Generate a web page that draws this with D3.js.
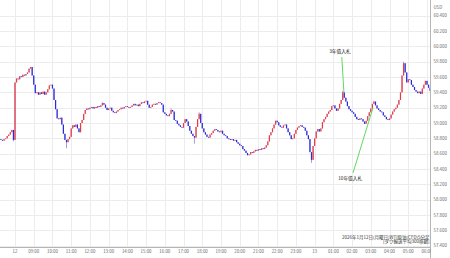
<!DOCTYPE html>
<html><head><meta charset="utf-8">
<script src="https://cdn.jsdelivr.net/npm/d3@7/dist/d3.min.js"></script>
<style>html,body{margin:0;padding:0;background:#fff;}svg{display:block;font-family:"Noto Sans CJK JP","Noto Sans",sans-serif;}</style>
</head><body><svg id="c" width="450" height="258"></svg>
<script>
// ---- data ----
const startTime = new Date(2026, 0, 12, 7, 15); // first 5-minute candle
const firstOpen = 58.79;
const closes = [
58.78,58.77,58.79,58.80,58.83,58.85,58.88,58.91,58.78,59.53,
59.58,59.57,59.61,59.60,59.63,59.62,59.64,59.66,59.71,59.73,
59.62,59.50,59.39,59.40,59.37,59.40,59.38,59.41,59.37,59.40,
59.44,59.49,59.50,59.45,59.30,59.18,59.06,59.05,59.07,58.98,
58.86,58.78,58.75,58.79,58.82,58.93,58.97,58.95,58.98,58.93,
58.88,59.00,59.04,59.12,59.17,59.19,59.18,59.20,59.21,59.19,
59.21,59.20,59.22,59.21,59.23,59.26,59.24,59.20,59.17,59.19,
59.20,59.16,59.14,59.13,59.15,59.17,59.18,59.20,59.19,59.21,
59.22,59.21,59.20,59.21,59.23,59.25,59.23,59.24,59.22,59.25,
59.27,59.26,59.28,59.29,59.24,59.20,59.21,59.24,59.25,59.24,
59.26,59.27,59.26,59.24,59.14,59.12,59.10,59.09,59.12,59.17,
59.15,59.04,59.03,58.99,58.97,58.95,58.94,59.00,59.05,59.02,
58.96,58.90,58.86,58.83,58.81,58.95,59.05,59.12,59.00,58.93,
58.88,58.85,58.82,58.81,58.85,58.87,58.90,58.92,58.91,58.89,
58.88,58.90,58.86,58.84,58.83,58.80,58.79,58.78,58.79,58.77,
58.78,58.75,58.73,58.71,58.70,58.66,58.64,58.61,58.58,58.59,
58.62,58.61,58.63,58.65,58.64,58.66,58.65,58.67,58.66,58.68,
58.71,58.76,58.84,58.88,58.93,58.98,59.03,59.01,58.97,58.95,
58.94,58.97,58.98,58.93,58.88,58.84,58.79,58.80,58.86,58.91,
58.94,58.96,58.97,58.95,58.94,58.90,58.84,58.79,58.62,58.52,
58.70,58.80,58.89,58.92,58.89,58.93,59.01,59.05,59.08,59.12,
59.15,59.17,59.22,59.23,59.19,59.16,59.19,59.25,59.30,59.40,
59.33,59.28,59.22,59.18,59.16,59.14,59.12,59.08,59.05,59.04,
59.06,59.05,59.02,58.99,59.03,59.09,59.14,59.19,59.25,59.28,
59.23,59.19,59.17,59.15,59.14,59.10,59.08,59.05,59.04,59.06,
59.11,59.15,59.18,59.20,59.24,59.30,59.40,59.62,59.78,59.66,
59.53,59.57,59.56,59.50,59.47,59.43,59.41,59.39,59.41,59.38,
59.45,59.50,59.55,59.50,59.46,59.42
];
// extreme wicks: [candle index, price]
const wickExtremes = [[8,58.76],[42,58.67],[65,59.27],[109,59.19],[124,58.73],[127,59.14],[199,58.48],[219,59.42],[239,59.29],[258,59.80]];
const yTicks = [60.4,60.2,60.0,59.8,59.6,59.4,59.2,59.0,58.8,58.6,58.4,58.2,58.0,57.8,57.6,57.4];
const xTickLabels = ["12","09:00","10:00","11:00","12:00","13:00","14:00","15:00","16:00","17:00","18:00","19:00","20:00","21:00","22:00","23:00","13","01:00","02:00","03:00","04:00","05:00","06:00"];
const unitLabel = "USD";
const annotations = [
  {text:"3年債入札", label:[new Date(2026,0,13,1,21),59.91], from:[new Date(2026,0,13,1,27),59.86], to:[new Date(2026,0,13,1,34),59.39]},
  {text:"10年債入札", label:[new Date(2026,0,13,1,54),58.26], from:[new Date(2026,0,13,2,3),58.35], to:[new Date(2026,0,13,3,7),59.20]}
];
const footLines = ["2026年1月12日(月曜日)WTI原油(CFD)5分足","[ダウ輸送平均300移動]"];

// ---- build ----
const svg = d3.select("#c");
const W = 450, H = 258;
const plotRight = 430.5, plotBottom = 247.5;
const x = d3.scaleTime().domain([new Date(2026,0,12,8,0), new Date(2026,0,13,6,0)]).range([15, 427]);
const y = d3.scaleLinear().domain([57.4, 60.4]).range([245.7, 15.7]);

const candles = closes.map((c,i)=>{
  const o = i===0 ? firstOpen : closes[i-1];
  let hi = Math.max(o,c), lo = Math.min(o,c);
  wickExtremes.forEach(([k,v])=>{ if(k===i){ hi=Math.max(hi,v); lo=Math.min(lo,v);} });
  return {t:d3.timeMinute.offset(startTime, 5*i), o, c, hi, lo};
});

svg.append("defs").append("clipPath").attr("id","pc").append("rect").attr("x",0).attr("y",0).attr("width",plotRight).attr("height",plotBottom);
svg.append("defs").append("clipPath").attr("id","xc").append("rect").attr("x",0).attr("y",plotBottom).attr("width",plotRight).attr("height",H-plotBottom);

// grid
const g = svg.append("g").attr("clip-path","url(#pc)");
const hourTicks = d3.timeHour.range(new Date(2026,0,12,8,0), new Date(2026,0,13,7,0));
g.selectAll("line.vg").data(hourTicks).join("line")
  .attr("x1",d=>Math.round(x(d))+0.5).attr("x2",d=>Math.round(x(d))+0.5)
  .attr("y1",0).attr("y2",plotBottom).attr("stroke","#ececec").attr("stroke-width",1);
g.selectAll("line.hg").data(yTicks).join("line")
  .attr("x1",0).attr("x2",plotRight).attr("y1",d=>Math.round(y(d))+0.5).attr("y2",d=>Math.round(y(d))+0.5)
  .attr("stroke","#ececec").attr("stroke-width",1);

// candles
const cw = 1.2;
g.selectAll("line.wk").data(candles).join("line")
  .attr("x1",d=>x(d.t)).attr("x2",d=>x(d.t))
  .attr("y1",d=>y(d.hi)).attr("y2",d=>y(d.lo))
  .attr("stroke","#a89ee6").attr("stroke-width",1);
g.selectAll("rect.bd").data(candles).join("rect")
  .attr("x",d=>x(d.t)-cw/2).attr("width",cw)
  .attr("y",d=>y(Math.max(d.o,d.c)))
  .attr("height",d=>Math.max(0.8, y(Math.min(d.o,d.c))-y(Math.max(d.o,d.c))))
  .attr("fill",d=>d.c>=d.o ? "#f03a3a" : "#2a2ad8");

// annotations
annotations.forEach(a=>{
  svg.append("line").attr("x1",x(a.from[0])).attr("y1",y(a.from[1])).attr("x2",x(a.to[0])).attr("y2",y(a.to[1]))
    .attr("stroke","#4cd64c").attr("stroke-width",0.9);
  svg.append("text").attr("x",x(a.label[0])).attr("y",y(a.label[1])).attr("text-anchor","middle")
    .attr("font-size",4.7).attr("fill","#222").text(a.text);
});

// footnote
footLines.forEach((t,i)=>{
  svg.append("text").attr("x",429.5).attr("y",238.5+i*4.8).attr("text-anchor","end")
    .attr("font-size",4.5).attr("fill","#333").text(t);
});

// axes lines
svg.append("line").attr("x1",plotRight).attr("x2",plotRight).attr("y1",0).attr("y2",H).attr("stroke","#b5b5b5").attr("stroke-width",1);
svg.append("line").attr("x1",0).attr("x2",plotRight).attr("y1",plotBottom).attr("y2",plotBottom).attr("stroke","#b5b5b5").attr("stroke-width",1);

// y labels
svg.selectAll("text.yl").data(yTicks).join("text")
  .attr("x",433.5).attr("y",d=>y(d)+1.5).attr("font-size",4.4).attr("fill","#666")
  .text(d=>d3.format(".3f")(d));
svg.append("text").attr("x",433.5).attr("y",8.5).attr("font-size",4.4).attr("fill","#666").text(unitLabel);

// x labels
svg.append("g").attr("clip-path","url(#xc)").selectAll("text").data(hourTicks).join("text")
  .attr("x",d=>x(d)).attr("y",253).attr("text-anchor","middle").attr("font-size",4.4).attr("fill","#666")
  .text((d,i)=>xTickLabels[i]);
</script>
</body></html>
